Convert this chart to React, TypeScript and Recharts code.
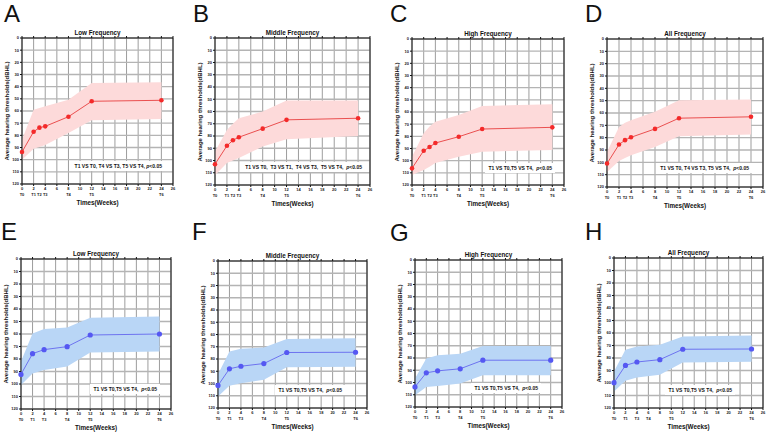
import React from "react";
import { Area, CartesianGrid, ComposedChart, Line, XAxis, YAxis } from "recharts";

// Follow-up weeks for each group
const weeksRed = [0, 2, 3, 4, 8, 12, 24];
const weeksBlue = [0, 2, 4, 8, 12, 24];

// Time-point labels under the week axis
const tWeeksRed = [0, 2, 3, 4, 8, 12, 24];
const tLabelsRed = ["T0", "T1", "T2", "T3", "T4", "T5", "T6"];
const tWeeksBlue = [0, 2, 4, 8, 12, 24];
const tWeeksBlueAll = [0, 2, 4, 6, 10, 24];
const tLabelsBlue = ["T0", "T1", "T3", "T4", "T5", "T6"];

const xTicks = [0, 2, 4, 6, 8, 10, 12, 14, 16, 18, 20, 22, 24, 26];
const yTicks = [0, 10, 20, 30, 40, 50, 60, 70, 80, 90, 100, 110, 120];

// Mean thresholds (dBHL) and the shaded band edges
const aMean = [93.7, 77, 73.7, 72.6, 64.7, 52, 51.2];
const aTop = [83.6, 59, 57.5, 56, 50.7, 37, 36.4];
const aBottom = [100, 91, 89.5, 88, 78, 67.7, 66.6];

const bMean = [103, 88, 83.5, 81, 74, 66.8, 65.5];
const bTop = [92.7, 75, 70, 65.5, 60, 51, 51];
const bBottom = [112, 102, 100, 98, 88.6, 82.6, 80];

const cMean = [106.3, 91.8, 88.8, 85.5, 80.3, 74, 72.6];
const cTop = [96.7, 77.5, 72, 68, 62.5, 55, 53.7];
const cBottom = [111.8, 107.7, 105, 102, 96.7, 92.6, 91.2];

const dMean = [101, 85.6, 82, 79.7, 72.9, 64.2, 63.1];
const dTop = [91.6, 71.3, 68, 65.9, 59, 49.6, 49];
const dBottom = [107.9, 99, 96.5, 94.3, 87.5, 78.9, 77.5];

const eMean = [92.3, 75.7, 72.5, 70.1, 60.8, 60];
const eTop = [82, 59.5, 56, 54.7, 47, 46];
const eBottom = [100.8, 91.5, 88.8, 86, 74.7, 74];

const fMean = [101.6, 88, 85.9, 83.7, 74.7, 74.5];
const fTop = [92.4, 73.9, 71.7, 70.6, 63.6, 63];
const fBottom = [110.6, 101.9, 99.7, 97, 86.7, 86.4];

const gMean = [103.6, 92.1, 90.5, 88.8, 81.8, 81.8];
const gTop = [96.8, 80.4, 77.7, 76.6, 70.3, 70.3];
const gBottom = [110.4, 103.6, 102.8, 100.8, 94, 94];

const hMean = [99.7, 85.9, 83.2, 81.3, 73, 72.8];
const hTop = [90.7, 73.3, 70.7, 69.3, 62.7, 61.9];
const hBottom = [106.7, 98.1, 95.5, 93.3, 83.5, 82.9];

const RED = { line: "#e8403f", dot: "#f42a2a", band: "#fddada" };
const BLUE = { line: "#6468ee", dot: "#5558f2", band: "#b9d6f6" };

const FONT = '"Liberation Sans", Arial, sans-serif';

type Palette = typeof RED;

interface PanelSpec {
  letter: string;
  title: string;
  weeks: number[];
  mean: number[];
  top: number[];
  bottom: number[];
  tWeeks: number[];
  tLabels: string[];
  note: string;
  // plot box: left, top, right, bottom
  box: [number, number, number, number];
  noteAt: [number, number];
  letterAt: [number, number];
  color: Palette;
  dotR: number;
}

const panels: PanelSpec[] = [
  {
    letter: "A", title: "Low Frequency", weeks: weeksRed, mean: aMean, top: aTop, bottom: aBottom,
    tWeeks: tWeeksRed, tLabels: tLabelsRed, note: "T1 VS T0, T4 VS T3, T5 VS T4, ",
    box: [22, 38, 173, 184], noteAt: [162, 166], letterAt: [4, 2], color: RED, dotR: 2.3,
  },
  {
    letter: "B", title: "Middle Frequency", weeks: weeksRed, mean: bMean, top: bTop, bottom: bBottom,
    tWeeks: tWeeksRed, tLabels: tLabelsRed, note: "T1 VS T0,  T3 VS T1,  T4 VS T3,  T5 VS T4,  ",
    box: [215, 38, 370, 185], noteAt: [362, 167], letterAt: [193, 2], color: RED, dotR: 2.3,
  },
  {
    letter: "C", title: "High Frequency", weeks: weeksRed, mean: cMean, top: cTop, bottom: cBottom,
    tWeeks: tWeeksRed, tLabels: tLabelsRed, note: "T1 VS T0,T5 VS T4,  ",
    box: [412, 39, 564, 185], noteAt: [552, 168], letterAt: [390, 2], color: RED, dotR: 2.3,
  },
  {
    letter: "D", title: "All Frequency", weeks: weeksRed, mean: dMean, top: dTop, bottom: dBottom,
    tWeeks: tWeeksRed, tLabels: tLabelsRed, note: "T1 VS T0, T4 VS T3, T5 VS T4,  ",
    box: [607, 39, 763, 187], noteAt: [749, 168], letterAt: [585, 2], color: RED, dotR: 2.3,
  },
  {
    letter: "E", title: "Low Frequency", weeks: weeksBlue, mean: eMean, top: eTop, bottom: eBottom,
    tWeeks: tWeeksBlue, tLabels: tLabelsBlue, note: "T1 VS T0,T5 VS T4,  ",
    box: [21, 259, 171, 409], noteAt: [157, 389], letterAt: [1, 220], color: BLUE, dotR: 2.6,
  },
  {
    letter: "F", title: "Middle Frequency", weeks: weeksBlue, mean: fMean, top: fTop, bottom: fBottom,
    tWeeks: tWeeksBlue, tLabels: tLabelsBlue, note: "T1 VS T0,T5 VS T4,  ",
    box: [218, 261, 367, 408], noteAt: [342, 390], letterAt: [192, 220], color: BLUE, dotR: 2.6,
  },
  {
    letter: "G", title: "High Frequency", weeks: weeksBlue, mean: gMean, top: gTop, bottom: gBottom,
    tWeeks: tWeeksBlue, tLabels: tLabelsBlue, note: "T1 VS T0,T5 VS T4,  ",
    box: [415, 260, 562, 407], noteAt: [538, 388], letterAt: [390, 221], color: BLUE, dotR: 2.6,
  },
  {
    letter: "H", title: "All Frequency", weeks: weeksBlue, mean: hMean, top: hTop, bottom: hBottom,
    tWeeks: tWeeksBlueAll, tLabels: tLabelsBlue, note: "T1 VS T0,T5 VS T4,  ",
    box: [614, 258, 763, 408], noteAt: [732, 390], letterAt: [585, 220], color: BLUE, dotR: 2.6,
  },
];

const Y_W = 12;
const R_W = 3;
const TOP_H = 3;
const X_H = 8;
const T_H = 9;

const tickStyle = { fontSize: 4, fill: "#222", fontWeight: 700, fontFamily: FONT };

function Panel({ p }: { p: PanelSpec }) {
  const [left, top, right, bottom] = p.box;
  const plotW = right - left;
  const plotH = bottom - top;
  const rows = p.weeks.map((week, i) => ({
    week,
    mean: p.mean[i],
    band: [p.top[i], p.bottom[i]],
  }));
  const tLabel = (v: number) => {
    const i = p.tWeeks.indexOf(v);
    return i >= 0 ? p.tLabels[i] : "";
  };

  return (
    <>
      <div
        style={{
          position: "absolute", left: p.letterAt[0], top: p.letterAt[1],
          fontSize: 24, lineHeight: "24px", color: "#111", fontFamily: FONT,
        }}
      >
        {p.letter}
      </div>
      <div
        style={{
          position: "absolute", left, width: plotW, top: top - 9, textAlign: "center",
          fontSize: 6.3, lineHeight: "8px", fontWeight: 700, fontFamily: FONT, color: "#111",
        }}
      >
        {p.title}
      </div>
      <div
        style={{
          position: "absolute", left: left - 15 - 60, top: top + plotH / 2 - 4, width: 120,
          textAlign: "center", transform: "rotate(-90deg)", fontSize: 6, lineHeight: "8px",
          fontWeight: 700, fontFamily: FONT, color: "#111", whiteSpace: "nowrap",
        }}
      >
        Average hearing thresholds(dBHL)
      </div>
      <div style={{ position: "absolute", left: left - Y_W, top: top - TOP_H }}>
        <ComposedChart
          width={plotW + Y_W + R_W}
          height={plotH + TOP_H + X_H + T_H}
          data={rows}
          margin={{ top: 0, right: 0, bottom: 0, left: 0 }}
        >
          <CartesianGrid horizontal={false} stroke="#5a5a5a" strokeWidth={0.6} />
          <CartesianGrid vertical={false} stroke="#b4b4b4" strokeWidth={1.3} />
          <XAxis
            dataKey="week" type="number" domain={[0, 26]} ticks={xTicks}
            height={X_H} tickSize={2} tickMargin={1} stroke="#111" tick={tickStyle} interval={0}
          />
          <XAxis
            xAxisId="t" dataKey="week" type="number" domain={[0, 26]} ticks={p.tWeeks}
            height={T_H} tickSize={0} tickMargin={1} axisLine={false} tickLine={false}
            tick={tickStyle} tickFormatter={tLabel} interval={0}
          />
          <XAxis
            xAxisId="top" dataKey="week" type="number" orientation="top" domain={[0, 26]}
            ticks={xTicks} height={TOP_H} tickSize={2} stroke="#111" tickFormatter={() => ""}
          />
          <YAxis
            type="number" domain={[0, 120]} reversed ticks={yTicks} width={Y_W}
            tickSize={2} tickMargin={1} stroke="#111" tick={tickStyle} interval={0}
          />
          <YAxis
            yAxisId="r" type="number" orientation="right" domain={[0, 120]} reversed ticks={yTicks}
            width={R_W} tickSize={2} stroke="#111" tickFormatter={() => ""}
          />
          <Area
            type="linear" dataKey="band" stroke="none"
            fill={p.color.band} fillOpacity={1} isAnimationActive={false}
          />
          <Line
            type="linear" dataKey="mean" stroke={p.color.line}
            strokeWidth={0.9} dot={{ r: p.dotR, fill: p.color.dot, stroke: p.color.dot, strokeWidth: 0 }}
            isAnimationActive={false}
          />
        </ComposedChart>
      </div>
      <div
        style={{
          position: "absolute", right: 767 - p.noteAt[0] - 3, top: p.noteAt[1] - 5,
          background: "#fff", padding: "1px 3px", fontSize: 5, lineHeight: "8px",
          fontWeight: 700, fontFamily: FONT, color: "#111", whiteSpace: "pre",
        }}
      >
        {p.note}
        <i>p</i>&lt;0.05
      </div>
      <div
        style={{
          position: "absolute", left, width: plotW, top: bottom + 15, textAlign: "center",
          fontSize: 6.3, lineHeight: "8px", fontWeight: 700, fontFamily: FONT, color: "#111",
        }}
      >
        Times(Weeks)
      </div>
    </>
  );
}

export default function App() {
  return (
    <div
      style={{
        position: "absolute", left: 0, top: 0, width: 767, height: 433,
        background: "#fff", overflow: "hidden",
      }}
    >
      {panels.map((p) => (
        <Panel key={p.letter} p={p} />
      ))}
    </div>
  );
}
